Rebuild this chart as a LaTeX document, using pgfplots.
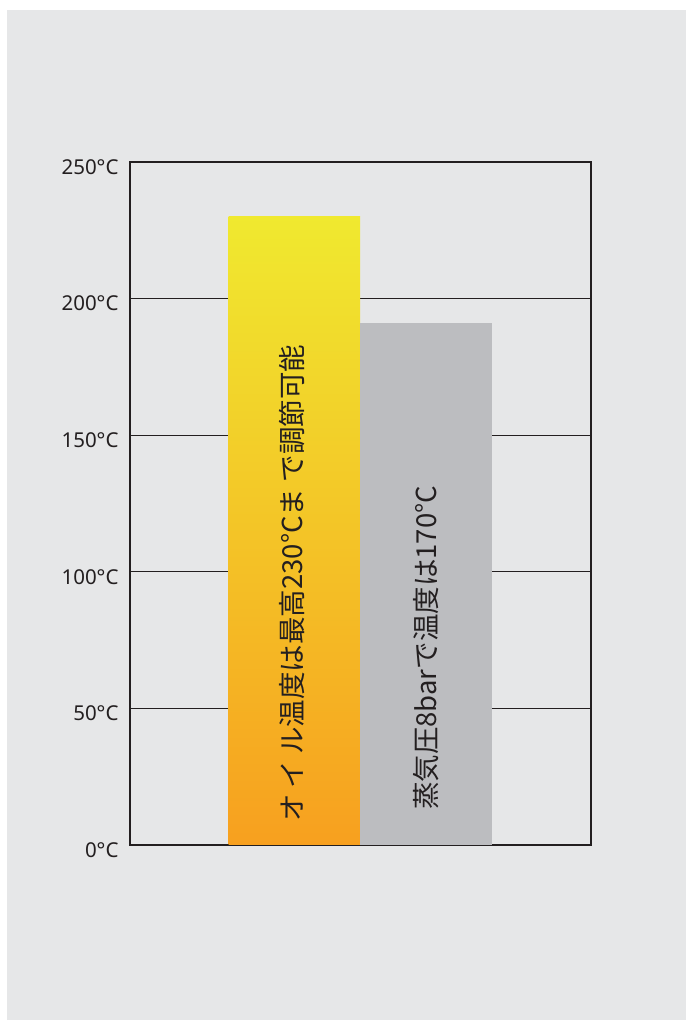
\documentclass[border=0pt]{standalone}
\usepackage{pgfplots}
\pgfplotsset{compat=1.18}
\usetikzlibrary{backgrounds}
\usepackage{fontspec}
\setmainfont{Noto Sans}
\newfontfamily\jp{Noto Sans CJK JP}
\definecolor{panel}{HTML}{E6E7E8}
\definecolor{bartop}{HTML}{F0E92F}
\definecolor{barbot}{HTML}{F7A01F}
\definecolor{bargray}{HTML}{BCBDC0}
\definecolor{ink}{HTML}{231F20}
\begin{document}
\begin{tikzpicture}
\begin{axis}[
  name=ax, scale only axis,
  width=461bp, height=683bp,
  xmin=-0.251, xmax=3.255, ymin=0, ymax=250,
  xtick=\empty, ytick={0,50,100,150,200,250},
  yticklabels={0°C,50°C,100°C,150°C,200°C,250°C},
  yticklabel style={font=\fontsize{20.5bp}{24bp}\selectfont, text=ink, yshift=-5bp, xshift=-8bp},
  tick style={draw=none},
  ymajorgrids, major grid style={ink, line width=1bp},
  axis line style={ink, line width=1.5bp},
]
\addplot[ybar, bar width=1, draw=none, top color=bartop, bottom color=barbot] coordinates {(1,230)};
\addplot[ybar, bar width=1, draw=none, fill=bargray] coordinates {(2,191)};
\node[rotate=90, anchor=west, text=ink, inner sep=0pt, font=\jp\fontsize{27.5bp}{32bp}\selectfont] at (axis cs:0.98,8.4) {オ イ ル温度は最高230°Cま で調節可能};
\node[rotate=90, anchor=west, text=ink, inner sep=0pt, font=\jp\fontsize{27.5bp}{32bp}\selectfont] at (axis cs:2,12.8) {蒸気圧8barで温度は170°C};
\end{axis}
\pgfresetboundingbox
\path[use as bounding box] ([xshift=-130bp,yshift=-175bp]ax.south west) rectangle ([xshift=556bp,yshift=845bp]ax.south west);
\begin{scope}[on background layer]
\fill[white] ([xshift=-130bp,yshift=-175bp]ax.south west) rectangle ([xshift=556bp,yshift=845bp]ax.south west);
\fill[panel] ([xshift=-123bp,yshift=-176bp]ax.south west) rectangle ([xshift=557bp,yshift=835bp]ax.south west);
\end{scope}
\end{tikzpicture}
\end{document}
